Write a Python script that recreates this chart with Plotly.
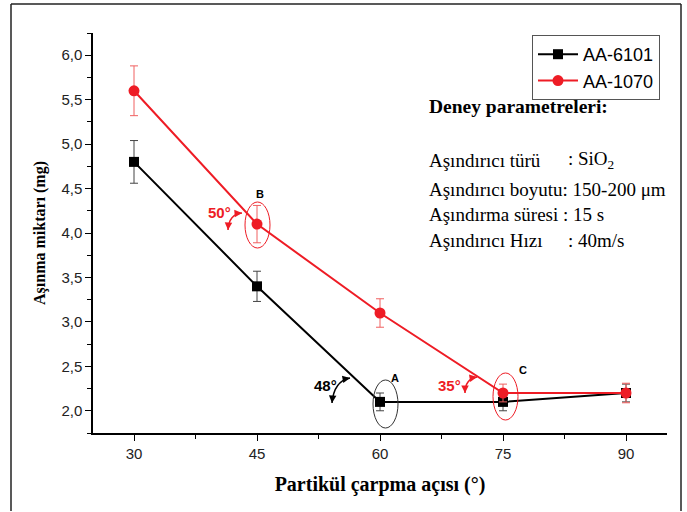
import plotly.graph_objects as go

angles = [30, 45, 60, 75, 90]
aa6101 = [4.8, 3.4, 2.1, 2.1, 2.2]
aa6101_err = [0.24, 0.17, 0.1, 0.1, 0.1]
aa1070 = [5.6, 4.1, 3.1, 2.2, 2.2]
aa1070_err = [0.28, 0.21, 0.16, 0.1, 0.11]
x_ticks = [30, 45, 60, 75, 90]
y_ticks = [2.0, 2.5, 3.0, 3.5, 4.0, 4.5, 5.0, 5.5, 6.0]
y_tick_text = ["2,0", "2,5", "3,0", "3,5", "4,0", "4,5", "5,0", "5,5", "6,0"]

RED = "#ee1c25"
W, H = 687, 512
PL, PT, PW, PH = 93, 33, 574, 400  # plot area in page pixels
ML, MT = PL, PT
MR = W - ML - PW
MB = H - MT - PH
XR = [25, 95]
YR = [1.75, 6.25]


def px2d(px, py):
    x = XR[0] + (px - PL) / PW * (XR[1] - XR[0])
    y = YR[1] - (py - PT) / PH * (YR[1] - YR[0])
    return x, y


def px2p(px, py):
    return (px - PL) / PW, (PT + PH - py) / PH


fig = go.Figure()
fig.add_trace(go.Scatter(
    x=angles, y=aa6101, name="AA-6101", mode="lines+markers",
    line=dict(color="black", width=2),
    marker=dict(symbol="square", size=10, color="black"),
    error_y=dict(type="data", array=aa6101_err, color="#444", thickness=1, width=4),
))
fig.add_trace(go.Scatter(
    x=angles, y=aa1070, name="AA-1070", mode="lines+markers",
    line=dict(color=RED, width=2),
    marker=dict(symbol="circle", size=11, color=RED),
    error_y=dict(type="data", array=aa1070_err, color="#f06060", thickness=1, width=4),
))

shapes = []
# outer frame (left, top, right edges)
fl, ft = px2p(11, 4)
fr, fb = px2p(681, 511)
for (x0, y0, x1, y1) in [(fl, fb, fl, ft), (fl, ft, fr, ft), (fr, ft, fr, fb)]:
    shapes.append(dict(type="line", xref="paper", yref="paper", x0=x0, y0=y0, x1=x1, y1=y1,
                       line=dict(color="#222", width=1.5)))

# ellipses
for a, b, col in [((245, 202), (270, 248), RED),
                  ((373, 380), (398, 428), "#333"),
                  ((493, 373), (518, 420), RED)]:
    x0, y0 = px2d(*a)
    x1, y1 = px2d(*b)
    shapes.append(dict(type="circle", xref="x", yref="y", x0=x0, y0=y1, x1=x1, y1=y0,
                       line=dict(color=col, width=1)))

annotations = []
# curved double-headed arrows
arcs = [((242, 213), (229, 214), (228, 230), RED),
        ((350, 378), (334, 381), (332, 403), "black"),
        ((477, 377), (465, 379), (465, 393), RED)]
for p0, c, p1, col in arcs:
    d0 = px2d(*p0); dc = px2d(*c); d1 = px2d(*p1)
    shapes.append(dict(type="path", xref="x", yref="y",
                       path=f"M {d0[0]},{d0[1]} Q {dc[0]},{dc[1]} {d1[0]},{d1[1]}",
                       line=dict(color=col, width=1.5)))
    for p in (p0, p1):
        dx, dy = c[0] - p[0], c[1] - p[1]
        n = (dx * dx + dy * dy) ** 0.5
        hx, hy = px2d(*p)
        annotations.append(dict(x=hx, y=hy, xref="x", yref="y", text="", showarrow=True,
                                ax=dx / n * 5, ay=dy / n * 5, arrowhead=2, arrowsize=1,
                                arrowwidth=1.5, arrowcolor=col))

# point labels
for txt, pos, col, sz in [("B", (260, 194), "black", 11), ("A", (395, 378), "black", 11),
                          ("C", (523, 370), "black", 11), ("50°", (219, 212), RED, 15),
                          ("48°", (325, 385), "black", 15), ("35°", (449, 385), RED, 15)]:
    x, y = px2d(*pos)
    annotations.append(dict(x=x, y=y, xref="x", yref="y", text=f"<b>{txt}</b>", showarrow=False,
                            font=dict(family="Arial", size=sz, color=col)))

# parameter block
SERIF = "Liberation Serif, Times New Roman, serif"
bx, by = px2p(427, 106)
annotations.append(dict(x=bx, y=by, xref="paper", yref="paper", xanchor="left", yanchor="middle",
                        text="<b>Deney parametreleri:</b>", showarrow=False,
                        font=dict(family=SERIF, size=19.5, color="black")))
serif = dict(family=SERIF, size=19, color="black")
lines = [("Aşındırıcı türü", ": SiO<sub>2</sub>", 160, 566),
         ("Aşındırıcı boyutu: 150-200 μm", None, 190, None),
         ("Aşındırma süresi : 15 s", None, 215, None),
         ("Aşındırıcı Hızı", ": 40m/s", 240, 566)]
for lab, val, py, cx in lines:
    lx, ly = px2p(427, py)
    annotations.append(dict(x=lx, y=ly, xref="paper", yref="paper", xanchor="left", yanchor="middle",
                            text=lab, showarrow=False, font=serif))
    if val is not None:
        vx, _ = px2p(cx, py)
        annotations.append(dict(x=vx, y=ly, xref="paper", yref="paper", xanchor="left", yanchor="middle",
                                text=val, showarrow=False, font=serif))

lgx, lgy = px2p(532, 35)
fig.update_layout(
    width=W, height=H,
    margin=dict(l=ML, r=MR, t=MT, b=MB),
    paper_bgcolor="white", plot_bgcolor="white",
    shapes=shapes, annotations=annotations,
    legend=dict(x=lgx, y=lgy, xanchor="left", yanchor="top",
                font=dict(family="Arial", size=18, color="black"),
                bordercolor="#555", borderwidth=1, bgcolor="white",
                tracegroupgap=0, itemwidth=40),
    xaxis=dict(range=XR, tickvals=x_ticks, showgrid=False, zeroline=False,
               showline=True, linecolor="black", linewidth=1.5,
               ticks="outside", ticklen=6, tickwidth=1.2, tickcolor="black",
               minor=dict(ticks="outside", ticklen=4, dtick=7.5, tick0=0, tickcolor="black"),
               tickfont=dict(family="Arial", size=15, color="#222"),
               title=dict(text="<b>Partikül çarpma açısı (°)</b>", standoff=16,
                          font=dict(family=SERIF, size=20, color="black"))),
    yaxis=dict(range=YR, tickvals=y_ticks, ticktext=y_tick_text, showgrid=False, zeroline=False,
               showline=True, linecolor="black", linewidth=1.5,
               ticks="outside", ticklen=6, tickwidth=1.2, tickcolor="black",
               minor=dict(ticks="outside", ticklen=4, dtick=0.25, tick0=0, tickcolor="black"),
               tickfont=dict(family="Arial", size=15, color="#222"),
               title=dict(text="<b>Aşınma miktarı (mg)</b>", standoff=12,
                          font=dict(family=SERIF, size=16, color="black"))),
)

fig.write_html("out.html", config={"displayModeBar": False},
               post_script="document.body.style.margin='0';document.body.style.overflow='hidden';")
